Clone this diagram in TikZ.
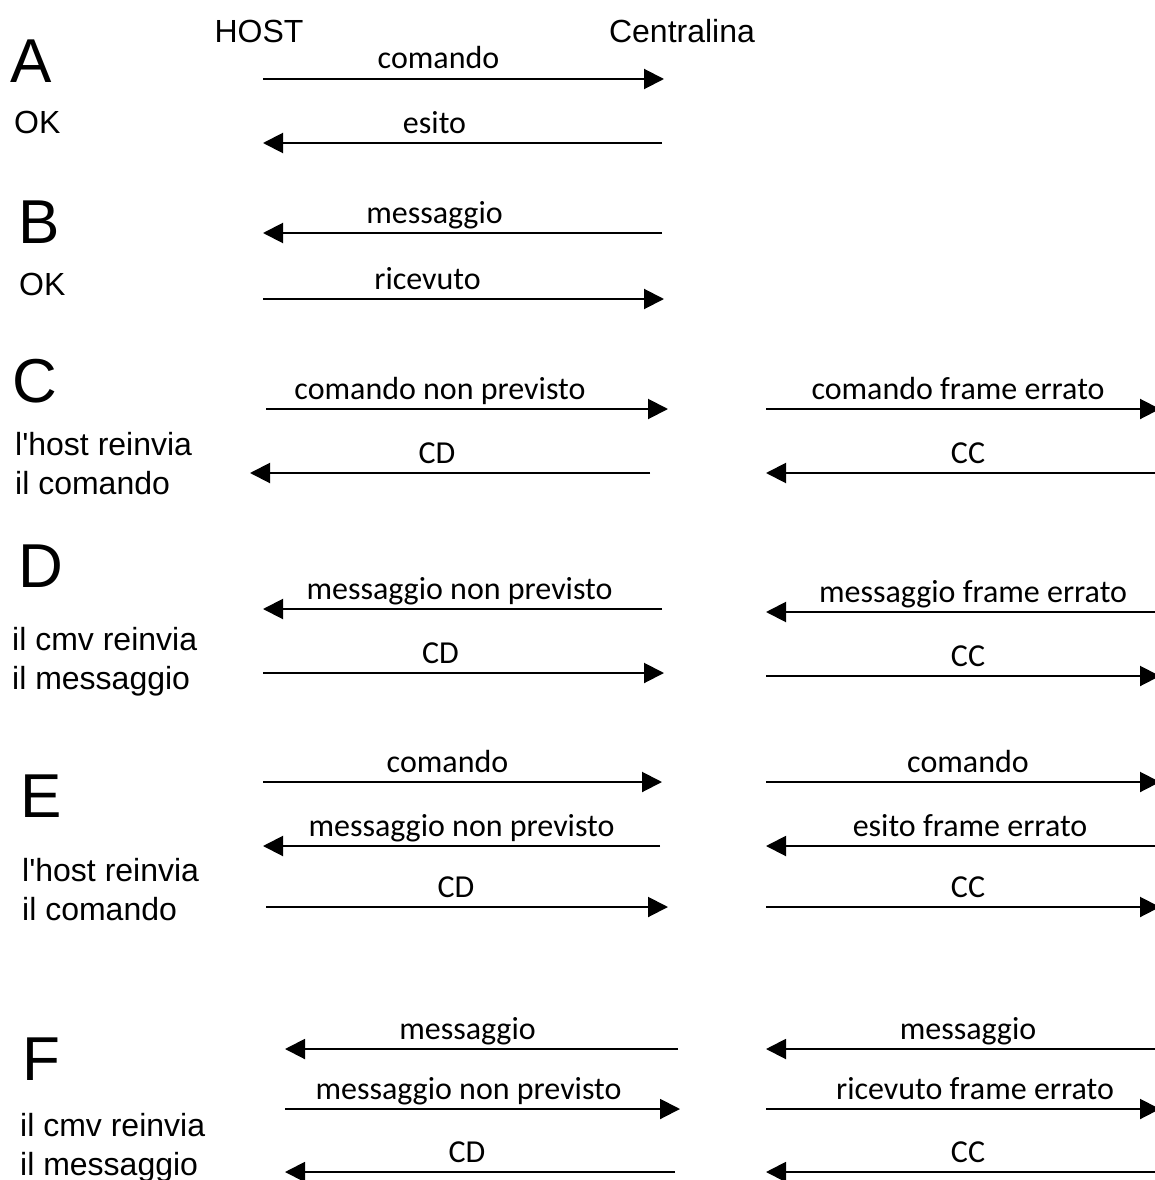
\documentclass[tikz,border=0pt]{standalone}
\usepackage{fontspec}
\setmainfont{Liberation Sans}
\newfontfamily\lblfont{Carlito}
\usetikzlibrary{arrows.meta}
\usetikzlibrary{positioning}

\begin{document}
\begin{tikzpicture}[x=1pt,y=-1pt,
	msg/.style={line width=2pt,-{Triangle[length=20pt,width=20pt]}},
	lbl/.style={midway,anchor=base,yshift=10pt,inner sep=0pt,font=\lblfont\fontsize{32}{32}\selectfont},
	case/.style={anchor=base west,inner sep=0pt,font=\fontsize{62}{62}\selectfont},
	side/.style={anchor=base west,inner sep=0pt,font=\fontsize{32}{39}\selectfont,align=left},
	head/.style={anchor=base,inner sep=0pt,font=\fontsize{32}{32}\selectfont}]
				\useasboundingbox (0,0) rectangle (1155,1180);
				\node[head] (HOST) at (259,43) {HOST};
				\node[head] (CENTRALINA) at (682,43) {Centralina};
				% cases
				\node[case] (A) at (10,83) {A};
				\node[case] (B) at (18,243) {B};
				\node[case] (C) at (12,402) {C};
				\node[case] (D) at (18,587) {D};
				\node[case] (E) at (20,817) {E};
				\node[case] (F) at (22,1080) {F};
				\node[side] (A_OK) at (14,133) {OK};
				\node[side] (B_OK) at (19,295) {OK};
				\node[side] (C_NOTE) at (15,494) {l\textquotesingle host reinvia\\il comando};
				\node[side] (D_NOTE) at (12,689) {il cmv reinvia\\il messaggio};
				\node[side] (E_NOTE) at (22,920) {l\textquotesingle host reinvia\\il comando};
				\node[side] (F_NOTE) at (20,1175) {il cmv reinvia\\il messaggio};
				% end points
				\coordinate (A1h) at (263,79);   \coordinate (A1c) at (664,79);
				\coordinate (A2h) at (263,143);  \coordinate (A2c) at (662,143);
				\coordinate (B1h) at (263,233);  \coordinate (B1c) at (662,233);
				\coordinate (B2h) at (263,299);  \coordinate (B2c) at (664,299);
				\coordinate (C1h) at (266,409);  \coordinate (C1c) at (668,409);
				\coordinate (C2h) at (250,473);  \coordinate (C2c) at (650,473);
				\coordinate (C3h) at (766,409);  \coordinate (C3c) at (1160,409);
				\coordinate (C4h) at (766,473);  \coordinate (C4c) at (1160,473);
				\coordinate (D1h) at (263,609);  \coordinate (D1c) at (662,609);
				\coordinate (D2h) at (263,673);  \coordinate (D2c) at (664,673);
				\coordinate (D3h) at (766,612);  \coordinate (D3c) at (1160,612);
				\coordinate (D4h) at (766,676);  \coordinate (D4c) at (1160,676);
				\coordinate (E1h) at (263,782);  \coordinate (E1c) at (662,782);
				\coordinate (E2h) at (263,846);  \coordinate (E2c) at (660,846);
				\coordinate (E3h) at (266,907);  \coordinate (E3c) at (668,907);
				\coordinate (E4h) at (766,782);  \coordinate (E4c) at (1160,782);
				\coordinate (E5h) at (766,846);  \coordinate (E5c) at (1160,846);
				\coordinate (E6h) at (766,907);  \coordinate (E6c) at (1160,907);
				\coordinate (F1h) at (285,1049); \coordinate (F1c) at (678,1049);
				\coordinate (F2h) at (285,1109); \coordinate (F2c) at (680,1109);
				\coordinate (F3h) at (285,1172); \coordinate (F3c) at (675,1172);
				\coordinate (F4h) at (766,1049); \coordinate (F4c) at (1160,1049);
				\coordinate (F5h) at (766,1109); \coordinate (F5c) at (1160,1109);
				\coordinate (F6h) at (766,1172); \coordinate (F6c) at (1160,1172);
				% A
				\draw[msg] (A1h) -- node[lbl,xshift=-25pt] {comando} (A1c);
				\draw[msg] (A2c) -- node[lbl,xshift=-28pt] {esito} (A2h);
				% B
				\draw[msg] (B1c) -- node[lbl,xshift=-28pt] {messaggio} (B1h);
				\draw[msg] (B2h) -- node[lbl,xshift=-36pt] {ricevuto} (B2c);
				% C
				\draw[msg] (C1h) -- node[lbl,xshift=-27pt] {comando non previsto} (C1c);
				\draw[msg] (C2c) -- node[lbl,xshift=-13pt] {CD} (C2h);
				\draw[msg] (C3h) -- node[lbl,xshift=-5pt] {comando frame errato} (C3c);
				\draw[msg] (C4c) -- node[lbl,xshift=5pt] {CC} (C4h);
				% D
				\draw[msg] (D1c) -- node[lbl,xshift=-3pt] {messaggio non previsto} (D1h);
				\draw[msg] (D2h) -- node[lbl,xshift=-23pt] {CD} (D2c);
				\draw[msg] (D3c) -- node[lbl,xshift=10pt] {messaggio frame errato} (D3h);
				\draw[msg] (D4h) -- node[lbl,xshift=5pt] {CC} (D4c);
				% E
				\draw[msg] (E1h) -- node[lbl,xshift=-15pt] {comando} (E1c);
				\draw[msg] (E2c) -- node[lbl] {messaggio non previsto} (E2h);
				\draw[msg] (E3h) -- node[lbl,xshift=-11pt] {CD} (E3c);
				\draw[msg] (E4h) -- node[lbl,xshift=5pt] {comando} (E4c);
				\draw[msg] (E5c) -- node[lbl,xshift=7pt] {esito frame errato} (E5h);
				\draw[msg] (E6h) -- node[lbl,xshift=5pt] {CC} (E6c);
				% F
				\draw[msg] (F1c) -- node[lbl,xshift=-14pt] {messaggio} (F1h);
				\draw[msg] (F2h) -- node[lbl,xshift=-14pt] {messaggio non previsto} (F2c);
				\draw[msg] (F3c) -- node[lbl,xshift=-13pt] {CD} (F3h);
				\draw[msg] (F4c) -- node[lbl,xshift=5pt] {messaggio} (F4h);
				\draw[msg] (F5h) -- node[lbl,xshift=12pt] {ricevuto frame errato} (F5c);
				\draw[msg] (F6c) -- node[lbl,xshift=5pt] {CC} (F6h);
			\end{tikzpicture}
\end{document}
